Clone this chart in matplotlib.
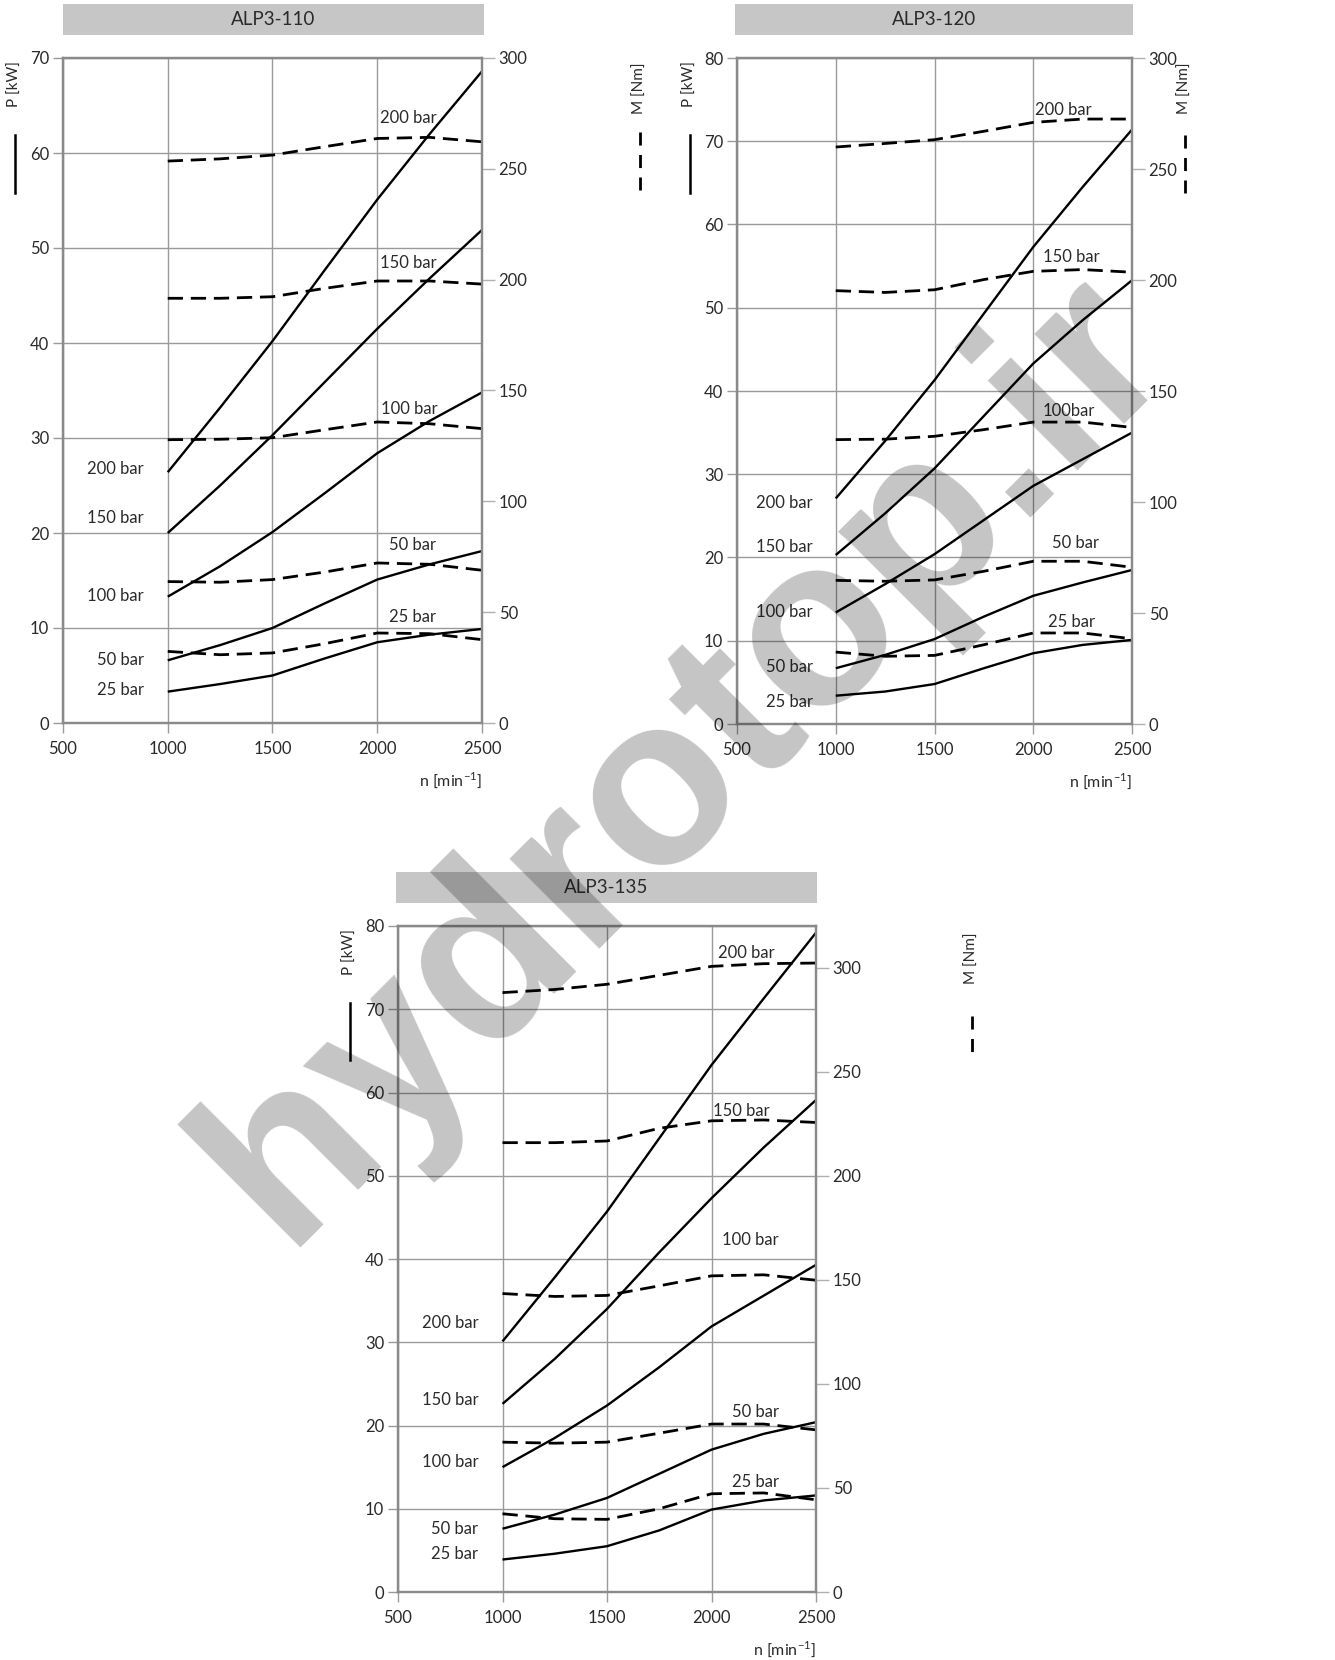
import matplotlib
matplotlib.use("Agg")
import matplotlib.pyplot as plt
from matplotlib.patches import Rectangle

plt.rcParams['font.family'] = ['Lato', 'DejaVu Sans']
plt.rcParams['font.weight'] = 'normal'

rpm = [1000, 1250, 1500, 1750, 2000, 2250, 2500]
pressures = ["200 bar", "150 bar", "100 bar", "50 bar", "25 bar"]

# ---- ALP3-110 ----
p110 = [
    [26.4, 33.2, 40.2, 47.7, 55.1, 62.0, 68.6],
    [20.0, 25.0, 30.3, 35.9, 41.5, 46.8, 51.9],
    [13.3, 16.5, 20.1, 24.2, 28.4, 31.8, 34.8],
    [6.6, 8.2, 10.0, 12.6, 15.1, 16.7, 18.1],
    [3.3, 4.1, 5.0, 6.8, 8.5, 9.3, 9.9],
]
m110 = [
    [253.5, 254.5, 256.2, 260.0, 263.7, 264.2, 262.2],
    [191.6, 191.6, 192.3, 196.1, 199.4, 199.4, 198.0],
    [127.8, 128.0, 128.7, 132.3, 135.8, 135.0, 132.8],
    [63.8, 63.5, 64.7, 68.1, 72.2, 71.6, 68.9],
    [32.3, 30.8, 31.6, 35.8, 40.6, 40.3, 37.6],
]
# ---- ALP3-120 ----
p120 = [
    [27.1, 34.0, 41.3, 49.3, 57.3, 64.5, 71.4],
    [20.3, 25.3, 30.7, 37.0, 43.3, 48.5, 53.3],
    [13.4, 16.8, 20.4, 24.5, 28.6, 31.8, 35.0],
    [6.7, 8.3, 10.2, 12.9, 15.4, 17.0, 18.5],
    [3.4, 3.9, 4.8, 6.7, 8.5, 9.5, 10.1],
]
m120 = [
    [259.9, 261.5, 263.2, 267.0, 271.0, 272.5, 272.5],
    [195.2, 194.4, 195.6, 200.2, 203.9, 204.7, 203.5],
    [128.1, 128.3, 129.6, 132.6, 136.0, 136.0, 133.6],
    [64.7, 64.3, 64.9, 68.8, 73.3, 73.3, 70.6],
    [32.4, 30.5, 30.9, 35.7, 41.0, 41.0, 38.4],
]
# ---- ALP3-135 ----
p135 = [
    [30.1, 37.8, 45.7, 54.5, 63.3, 71.3, 79.2],
    [22.6, 28.0, 34.0, 40.8, 47.3, 53.4, 59.1],
    [15.0, 18.5, 22.4, 27.0, 31.9, 35.6, 39.3],
    [7.6, 9.3, 11.3, 14.2, 17.1, 19.0, 20.4],
    [3.9, 4.6, 5.5, 7.4, 9.9, 11.0, 11.6],
]
m135 = [
    [288.0, 289.5, 292.0, 296.3, 300.6, 301.9, 302.2],
    [215.9, 215.9, 216.7, 222.8, 226.4, 226.8, 225.6],
    [143.4, 142.0, 142.5, 147.1, 151.9, 152.4, 149.8],
    [72.0, 71.5, 72.0, 76.3, 80.7, 80.7, 77.9],
    [37.6, 35.2, 34.9, 40.0, 47.2, 47.6, 44.3],
]

titles = ["ALP3-110", "ALP3-120", "ALP3-135"]
p_max = [70, 80, 80]
m_max = [300, 300, 320]
left_lbl_y = [[26.7, 21.6, 13.4, 6.6, 3.5], [26.6, 21.3, 13.5, 6.9, 2.6], [32.3, 23.1, 15.6, 7.6, 4.6]]
top_lbl_txt = [pressures, ["200 bar", "150 bar", "100bar", "50 bar", "25 bar"], pressures]
top_lbl_x = [[2148, 2150, 2152, 2167, 2170], [2151, 2191, 2178, 2213, 2196], [2168, 2144, 2187, 2211, 2211]]
top_lbl_y = [[63.7, 48.4, 33.1, 18.7, 11.2], [73.8, 56.1, 37.6, 21.8, 12.3], [76.8, 57.8, 42.3, 21.6, 13.2]]
xticks = [500, 1000, 1500, 2000, 2500]
mticks = [0, 50, 100, 150, 200, 250, 300]
watermark = "hydrotop.ir"

W, H = 1335, 1660
fig = plt.figure(figsize=(W / 100, H / 100), dpi=100)

# pixel boxes: axes (left, top, right, bottom), title bar (left, top, right, bottom)
ax_px = [(63, 58, 482, 723), (737, 58, 1132, 724), (398, 926, 816, 1592)]
bar_px = [(63, 4, 484, 35), (735, 4, 1133, 35), (396, 872, 817, 903)]
plbl_px = [(15, 84, 135, 193), (690, 84, 135, 193), (350, 952, 1003, 1060)]
mlbl_px = [(640, 88, 132, 190), (1185, 88, 135, 193), (972, 958, 1016, 1060)]

grid_c = '#9a9a9a'
txt_c = '#2a2a2a'
FS = 12


def fx(x):
    return x / W


def fy(y):
    return 1 - y / H


datasets = [(p110, m110), (p120, m120), (p135, m135)]
for i, (P, M) in enumerate(datasets):
    l, t, r, b = ax_px[i]
    ax = fig.add_axes([fx(l), fy(b), (r - l) / W, (b - t) / H])
    ax2 = ax.twinx()
    ax.set_xlim(500, 2500)
    ax.set_ylim(0, p_max[i])
    ax2.set_ylim(0, m_max[i])
    ax.set_xticks(xticks)
    ax.set_yticks(range(0, p_max[i] + 1, 10))
    ax2.set_yticks(mticks)
    ax.grid(True, color=grid_c, lw=1.0)
    ax.set_axisbelow(True)
    for a in (ax, ax2):
        for s in a.spines.values():
            s.set_color('#8a8a8a')
            s.set_linewidth(1.6)
    ax.tick_params(axis='both', colors='#9a9a9a', labelcolor=txt_c, labelsize=FS,
                   length=7, width=1.0, pad=3)
    ax.tick_params(axis='x', pad=6)
    ax2.tick_params(axis='y', colors='#b0b0b0', labelcolor=txt_c, labelsize=FS,
                    length=9, width=1.0, pad=3)
    for k in range(5):
        ax.plot(rpm, P[k], color='black', lw=1.7, solid_capstyle='butt')
        ax2.plot(rpm, M[k], color='black', lw=2.0, dashes=(5.5, 2.8), dash_capstyle='butt')
        ax.text(885, left_lbl_y[i][k], pressures[k], ha='right', va='center',
                fontsize=FS, color=txt_c)
        ax.text(top_lbl_x[i][k], top_lbl_y[i][k], top_lbl_txt[i][k], ha='center',
                va='center', fontsize=FS, color=txt_c)
    ax.text(1.0, -(57 / (b - t)), r'n [min$^{\mathregular{-1}}$]', transform=ax.transAxes,
            ha='right', va='center', fontsize=11.5, color=txt_c)

    # title bar
    bl, bt, br, bb = bar_px[i]
    fig.patches.append(Rectangle((fx(bl), fy(bb)), (br - bl) / W, (bb - bt) / H,
                                 transform=fig.transFigure, facecolor='#c6c6c6',
                                 edgecolor='none', zorder=0))
    fig.text(fx((bl + br) / 2), fy((bt + bb) / 2), titles[i], ha='center', va='center',
             fontsize=13.5, color=txt_c)

    # P label + solid legend stroke
    px, py, s0, s1 = plbl_px[i]
    fig.text(fx(px), fy(py), 'P [kW]', rotation=90, ha='center', va='center',
             fontsize=11, color=txt_c)
    fig.add_artist(plt.Line2D([fx(px), fx(px)], [fy(s0), fy(s1)], color='black', lw=1.8,
                              transform=fig.transFigure))
    # M label + dashed legend stroke
    mx, my, d0, d1 = mlbl_px[i]
    fig.text(fx(mx), fy(my), 'M [Nm]', rotation=90, ha='center', va='center',
             fontsize=11, color=txt_c)
    fig.add_artist(plt.Line2D([fx(mx), fx(mx)], [fy(d0), fy(d1)], color='black', lw=2.0,
                              dashes=(4.7, 3.4), transform=fig.transFigure))

# watermark (baseline origin of the text, rotated 45 degrees)
fig.text(fx(284), fy(1248), watermark, rotation=45, rotation_mode='anchor',
         ha='left', va='baseline', fontsize=171.8, fontweight='bold',
         family='Liberation Sans', color='black', alpha=0.231, zorder=10)

fig.savefig('out.png', dpi=100)
